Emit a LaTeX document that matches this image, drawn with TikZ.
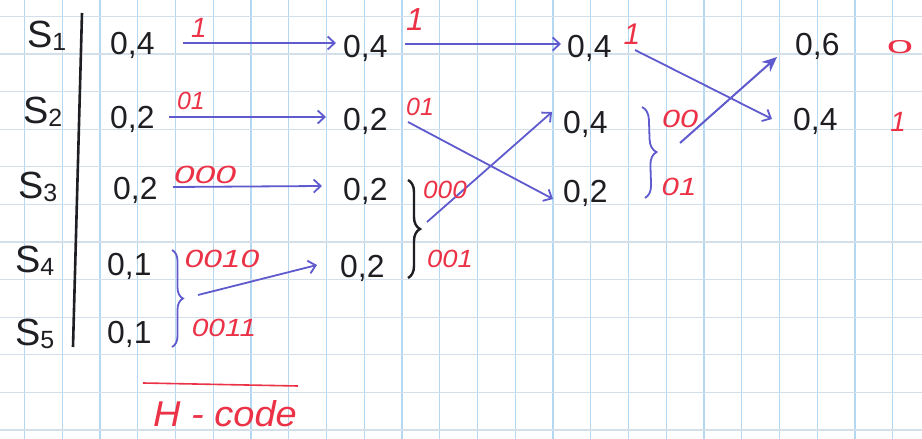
\documentclass[tikz,border=0pt]{standalone}
\usepackage{fontspec}
\setmainfont{Liberation Sans}
\usepackage{graphicx}
\usetikzlibrary{arrows.meta,decorations.pathreplacing}
\definecolor{ink}{RGB}{30,30,35}
\definecolor{bink}{RGB}{95,90,205}
\definecolor{rink}{RGB}{235,50,70}
\definecolor{gridv}{RGB}{180,215,242}
\definecolor{gridh}{RGB}{212,223,236}
\newcommand\rc[2]{\scalebox{#1}[1]{#2}}
\begin{document}
\begin{tikzpicture}[x=1bp,y=-1bp,
  val/.style={text=ink,font=\fontsize{32}{32}\selectfont,inner sep=0pt,anchor=base west},
  sym/.style={text=ink,font=\fontsize{38}{38}\selectfont,inner sep=0pt,anchor=base west},
  code/.style={text=rink,font=\fontsize{25}{25}\selectfont\itshape,inner sep=0pt},
  arr/.style={draw=bink,line width=1.8bp,-{Straight Barb[length=7bp,width=13bp,line width=1.8bp]}},
  bbrace/.style={decorate,decoration={brace,amplitude=#1},line width=1.8bp},
]
\useasboundingbox (0,0) rectangle (922,439);
\fill[white] (0,0) rectangle (922,439);
% graph paper
\foreach \k in {0,...,24} \draw[gridv,line width=1.3bp] ({24.5+37.75*\k},0) -- ({24.5+37.75*\k},439);
\foreach \k in {0,...,11} \draw[gridh,line width=1.2bp] (0,{16.4+37.6*\k}) -- (922,{16.4+37.6*\k});

% symbols
\node[sym] (s1) at (27,48) {S\raisebox{-3bp}{\fontsize{25}{25}\selectfont 1}};
\node[sym] (s2) at (23,124) {S\raisebox{-3bp}{\fontsize{25}{25}\selectfont 2}};
\node[sym] (s3) at (18,199) {S\raisebox{-3bp}{\fontsize{25}{25}\selectfont 3}};
\node[sym] (s4) at (15,273) {S\raisebox{-3bp}{\fontsize{25}{25}\selectfont 4}};
\node[sym] (s5) at (15,346) {S\raisebox{-3bp}{\fontsize{25}{25}\selectfont 5}};
\coordinate (vt) at (82,13);
\coordinate (vb) at (73,347);
\draw[ink,line width=2.6bp] (vt) -- (vb);

% column 1
\node[val] (v11) at (110,55) {0,4};
\node[val] (v12) at (110,129) {0,2};
\node[val] (v13) at (113,200) {0,2};
\node[val] (v14) at (107,276) {0,1};
\node[val] (v15) at (107,344) {0,1};
% column 2
\node[val] (v21) at (343,58) {0,4};
\node[val] (v22) at (343,131) {0,2};
\node[val] (v23) at (343,201) {0,2};
\node[val] (v24) at (340,278) {0,2};
% column 3
\node[val] (v31) at (567,58) {0,4};
\node[val] (v32) at (563,134) {0,4};
\node[val] (v33) at (563,203) {0,2};
% column 4
\node[val] (v41) at (795,56) {0,6};
\node[val] (v42) at (793,131) {0,4};

% braces
\coordinate (b1t) at (172,250); \coordinate (b1b) at (172,347);
\draw[bink,bbrace=11bp] (b1t) -- (b1b);
\coordinate (b2t) at (408,180); \coordinate (b2b) at (408,278);
\draw[ink,bbrace=12bp,line width=2.4bp] (b2t) -- (b2b);
\coordinate (b3t) at (642,107); \coordinate (b3b) at (645,198);
\draw[bink,bbrace=13bp] (b3t) -- (b3b);

% arrow end points
\coordinate (a1s) at (183,43);  \coordinate (a1e) at (336,43);
\coordinate (a2s) at (169,117); \coordinate (a2e) at (326,117);
\coordinate (a3s) at (173,187); \coordinate (a3e) at (322,186);
\coordinate (a4s) at (198,295); \coordinate (a4e) at (317,265);
\coordinate (a5s) at (405,44);  \coordinate (a5e) at (561,44);
\coordinate (a6s) at (408,122); \coordinate (a6e) at (553,199);
\coordinate (a7s) at (427,222); \coordinate (a7e) at (552,112);
\coordinate (a8s) at (635,50);  \coordinate (a8e) at (772,119);
\coordinate (a9s) at (680,143); \coordinate (a9e) at (777,57);
\draw[arr] (a1s) -- (a1e);
\draw[arr] (a2s) -- (a2e);
\draw[arr] (a3s) -- (a3e);
\draw[arr] (a4s) -- (a4e);
\draw[arr] (a5s) -- (a5e);
\draw[arr] (a6s) -- (a6e);
\draw[arr] (a7s) -- (a7e);
\draw[arr] (a8s) -- (a8e);
\draw[bink,line width=2bp,-{Stealth[length=15bp,width=13bp]}] (a9s) -- (a9e);

% code labels
\node[code] (c1) at (199,28) {\fontsize{28}{28}\selectfont 1};
\node[code] (c2) at (191,101) {\rc{1.0}{01}};
\node[code] (c3) at (205,175) {\rc{1.5}{000}};
\node[code] (c4) at (222,259) {\rc{1.35}{0010}};
\node[code] (c5) at (224,328) {\rc{1.2}{0011}};
\node[code] (c6) at (415,20) {\fontsize{32}{32}\selectfont 1};
\node[code] (c7) at (420,107) {\rc{1.0}{01}};
\node[code] (c8) at (445,190) {\rc{1.05}{000}};
\node[code] (c9) at (450,259) {\rc{1.1}{001}};
\node[code] (c10) at (632,34) {\fontsize{30}{30}\selectfont 1};
\node[code] (c11) at (680,119) {\rc{1.3}{00}};
\node[code] (c12) at (679,187) {\rc{1.25}{01}};
\node[code] (c13) at (900,47) {\upshape\scalebox{1.9}[0.75]{0}};
\node[code] (c14) at (898,122) {\fontsize{28}{28}\selectfont 1};

% H-code
\coordinate (ul1) at (143,383); \coordinate (ul2) at (298,386);
\draw[rink,line width=1.6bp] (ul1) -- (ul2);
\node[text=rink,font=\fontsize{36}{36}\selectfont\itshape,inner sep=0pt,anchor=base west] (hc) at (153,426) {\rc{1.06}{H - code}};
\end{tikzpicture}
\end{document}
